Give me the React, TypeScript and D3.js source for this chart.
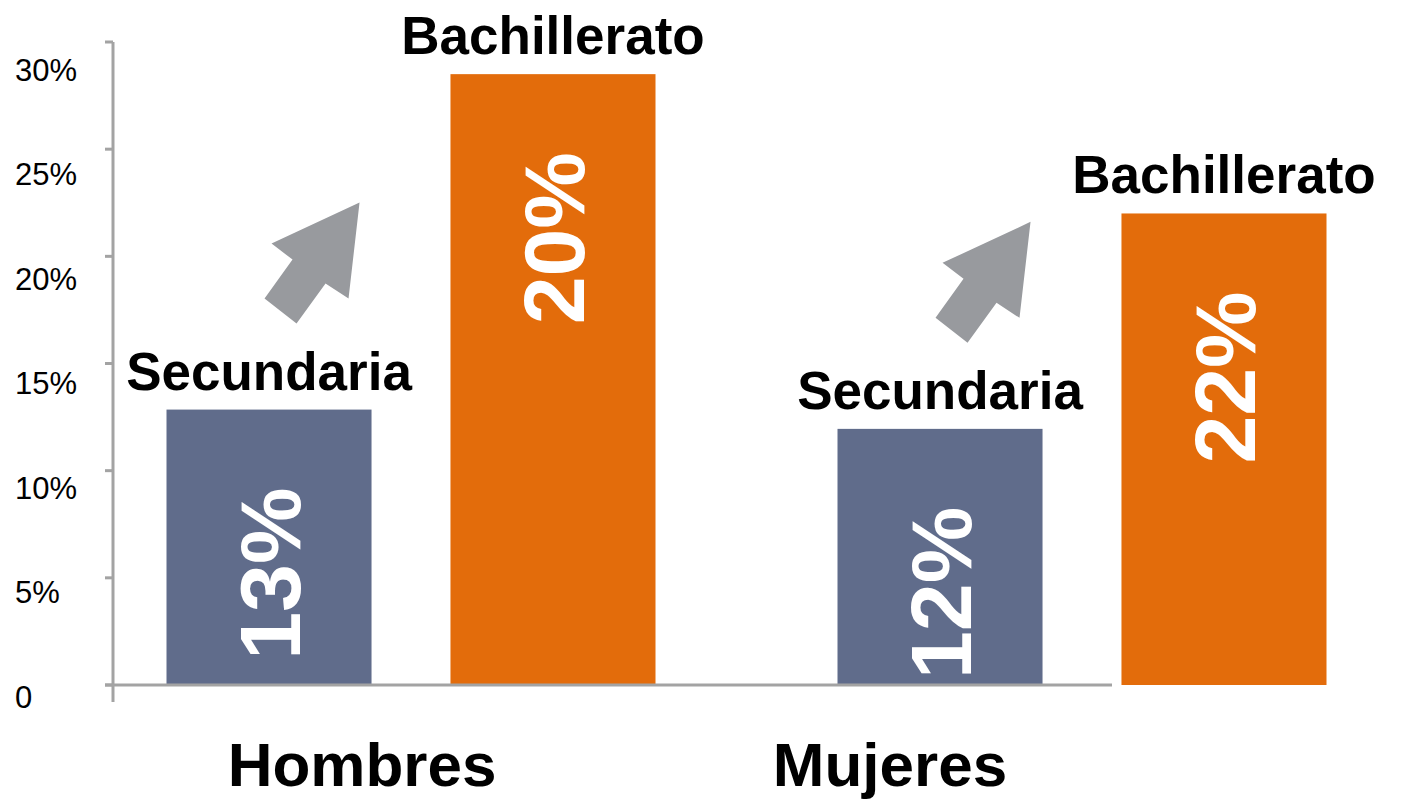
import React from "react";
import * as d3 from "d3";

const groups = ["Hombres", "Mujeres"];
const levels = ["Secundaria", "Bachillerato"];
const barValues: Record<string, number[]> = {
  Hombres: [12.85, 28.5],
  Mujeres: [11.95, 22.0],
};
const valueLabels: Record<string, string[]> = {
  Hombres: ["13%", "20%"],
  Mujeres: ["12%", "22%"],
};
const yTicks = [0, 5, 10, 15, 20, 25, 30];
const yTickLabels = ["0", "5%", "10%", "15%", "20%", "25%", "30%"];

const colors: Record<string, string> = {
  Secundaria: "#606c8b",
  Bachillerato: "#e36c0b",
};

const W = 1412;
const H = 801;
const FONT = "'Liberation Sans', Arial, Helvetica, sans-serif";

export default function App() {
  const y = d3.scaleLinear().domain([0, 30]).range([685, 42]);
  const yLab = d3.scaleLinear().domain([0, 30]).range([697, 70]);
  const xGroup = d3.scaleBand<string>().domain(groups).range([75.5, 1417.5]).padding(0);
  const xInner = d3
    .scaleBand<string>()
    .domain(levels)
    .range([-244.5, 244.5])
    .paddingInner(0.278)
    .paddingOuter(0);
  const xLabel = d3.scalePoint<string>().domain(groups).range([362, 890]);

  const axisX = 113;
  const arrowPts: [number, number][] = [
    [0, 0],
    [-11, 96],
    [-34, 81],
    [-63, 121],
    [-95, 96],
    [-67, 57],
    [-88, 41],
  ];
  const arrowPath = d3.line()(arrowPts) + "Z";

  const bars = groups.flatMap((g) =>
    levels.map((l, i) => {
      const cx = (xGroup(g) ?? 0) + xGroup.bandwidth() / 2;
      const x0 = cx + (xInner(l) ?? 0);
      return {
        g,
        l,
        v: barValues[g][i],
        label: valueLabels[g][i],
        x: x0,
        w: xInner.bandwidth(),
      };
    })
  );

  return (
    <svg
      width={W}
      height={H}
      style={{ position: "absolute", left: 0, top: 0, background: "#fff" }}
      fontFamily={FONT}
    >
      {/* bars */}
      {bars.map((b) => (
        <rect
          key={b.g + b.l}
          x={b.x}
          y={y(b.v)}
          width={b.w}
          height={y(0) - y(b.v)}
          fill={colors[b.l]}
        />
      ))}
      {/* axes */}
      <line x1={axisX} x2={axisX} y1={y(30)} y2={702} stroke="#a3a3a3" strokeWidth={3} />
      <line x1={105} x2={1112} y1={y(0)} y2={y(0)} stroke="#a3a3a3" strokeWidth={3} />
      {yTicks.map((t) => (
        <line key={t} x1={105} x2={axisX} y1={y(t)} y2={y(t)} stroke="#a3a3a3" strokeWidth={3} />
      ))}
      {yTicks.map((t, i) => (
        <text
          key={"l" + t}
          x={15}
          y={yLab(t)}
          dominantBaseline="central"
          fontSize={31}
          fill="#000"
        >
          {yTickLabels[i]}
        </text>
      ))}
      {/* level labels above bars */}
      {bars.map((b) => (
        <text
          key={"t" + b.g + b.l}
          x={b.x + b.w / 2}
          y={y(b.v) - 20}
          textAnchor="middle"
          fontSize={53}
          fontWeight="bold"
          fill="#000"
        >
          {b.l}
        </text>
      ))}
      {/* value labels inside bars */}
      {bars.map((b) => {
        const tx = b.x + b.w / 2 + 31;
        const ty = y(b.v) + 78;
        return (
          <text
            key={"v" + b.g + b.l}
            transform={`translate(${tx},${ty}) rotate(-90)`}
            textAnchor="end"
            fontSize={86}
            fontWeight="bold"
            fill="#fff"
          >
            {b.label}
          </text>
        );
      })}
      {/* arrows */}
      {bars
        .filter((b) => b.l === "Secundaria")
        .map((b) => (
          <path
            key={"a" + b.g}
            d={arrowPath}
            transform={`translate(${b.x + b.w - 12},${y(b.v) - 207})`}
            fill="#989a9e"
          />
        ))}
      {/* category labels */}
      {groups.map((g) => (
        <text
          key={"g" + g}
          x={xLabel(g)}
          y={786}
          textAnchor="middle"
          fontSize={62}
          fontWeight="bold"
          fill="#000"
        >
          {g}
        </text>
      ))}
    </svg>
  );
}
